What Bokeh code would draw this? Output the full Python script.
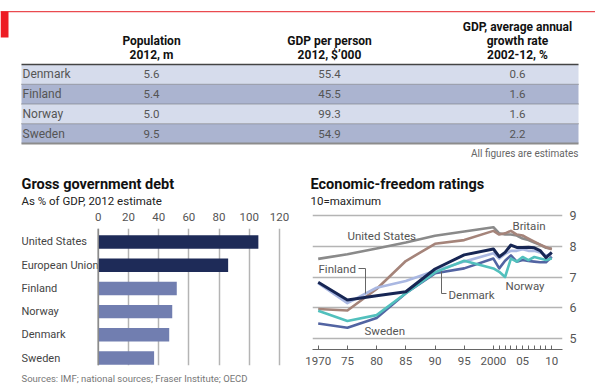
import numpy as np
from bokeh.plotting import figure
from bokeh.models import Range1d, FixedTicker, Label, Span, BoxAnnotation
from bokeh.layouts import column, row
from bokeh.embed import file_html
from bokeh.resources import INLINE
from bokeh.core.properties import value

FONT = "Roboto"

# ---------------- data ----------------
table_countries = ["Denmark", "Finland", "Norway", "Sweden"]
population_2012 = [5.6, 5.4, 5.0, 9.5]
gdp_per_person_2012 = [55.4, 45.5, 99.3, 54.9]
gdp_growth_2002_12 = [0.6, 1.6, 1.6, 2.2]
header_population = ["Population", "2012, m"]
header_gdp_person = ["GDP per person", "2012, $\u2019000"]
header_gdp_growth = ["GDP, average annual", "growth rate", "2002-12, %"]

debt_countries = ["United States", "European Union", "Finland", "Norway", "Denmark", "Sweden"]
debt_pct_gdp = [106, 86, 52, 49, 47, 37]
debt_ticks = [0, 20, 40, 60, 80, 100, 120]

years = [1970, 1975, 1980, 1985, 1990, 1995, 2000, 2001, 2002, 2003,
         2004, 2005, 2006, 2007, 2008, 2009, 2010]
year_tick_labels = {1970: "1970", 1975: "75", 1980: "80", 1985: "85", 1990: "90",
                    1995: "95", 2000: "2000", 2005: "05", 2010: "10"}
rating_ticks = [5, 6, 7, 8, 9]
rating_united_states = [7.59, 7.74, 7.93, 8.12, 8.34, 8.48, 8.62, 8.42, 8.38, 8.38,
                        8.35, 8.25, 8.20, 8.12, 8.05, 7.95, 7.92]
rating_britain = [5.96, 5.91, 6.61, 7.52, 8.08, 8.20, 8.50, 8.38, 8.42, 8.50,
                  8.38, 8.35, 8.25, 8.15, 8.05, 7.97, 7.90]
rating_denmark = [6.83, 6.25, 6.39, 6.52, 7.26, 7.72, 7.91, 7.66, 7.80, 8.04,
                  7.96, 7.96, 7.97, 7.95, 7.86, 7.63, 7.80]
rating_finland = [6.80, 6.15, 6.65, 6.87, 7.20, 7.50, 7.77, 7.60, 7.75, 7.85,
                  7.85, 7.90, 7.85, 7.85, 7.80, 7.70, 7.75]
rating_sweden = [5.49, 5.35, 5.67, 6.47, 7.12, 7.28, 7.60, 7.28, 7.53, 7.70,
                 7.50, 7.55, 7.52, 7.50, 7.48, 7.48, 7.66]
rating_norway = [5.90, 5.57, 5.76, 6.47, 7.15, 7.53, 7.28, 7.17, 7.00, 7.60,
                 7.50, 7.65, 7.55, 7.65, 7.60, 7.55, 7.60]

TXT = "#555555"
DARK = "#111111"

# ---------------- top: table + panel titles ----------------
TOP_H = 207
ROW_H = 19.75
ROW0 = 73.9


def ry(py):
    return (py - ROW0) / ROW_H


top = figure(width=595, height=TOP_H, x_range=Range1d(0, 595), y_range=Range1d(ry(TOP_H), ry(0)),
             x_axis_type=None, y_axis_type=None, output_backend="svg", toolbar_location=None,
             min_border=0, outline_line_color=None)
top.grid.visible = False

idx = list(range(len(table_countries)))
row_colors = ["#d6dcec" if i % 2 == 0 else "#abb4d0" for i in idx]
top.rect(x=299.5, y=idx, width=557, height=1, fill_color=row_colors, line_color=None)
sep = [i + 0.5 for i in idx[:-1]]
top.segment(x0=21, x1=578, y0=sep, y1=sep, line_color="#6a6a6a", line_dash="1 1", line_width=1)
top.segment(x0=[21], x1=[578], y0=[-0.5], y1=[-0.5], line_color="#444444", line_width=1.5)
top.segment(x0=[21], x1=[578], y0=[len(idx) - 0.5], y1=[len(idx) - 0.5], line_color="#8c8c8c", line_width=2)

top.text(x=22, y=idx, text=table_countries, text_font=value(FONT), text_font_size="12px",
         text_color=TXT, text_baseline="middle", text_align="left")
for xc, vals in [(151, population_2012), (329, gdp_per_person_2012), (517, gdp_growth_2002_12)]:
    top.text(x=xc, y=idx, text=[f"{v:.1f}" for v in vals], text_font=value(FONT),
             text_font_size="11.5px", text_color=TXT, text_baseline="middle", text_align="center")

for xc, lines in [(151, header_population), (329, header_gdp_person), (517, header_gdp_growth)]:
    n = len(lines)
    for k, t in enumerate(lines):
        py = 54 - 14 * (n - 1 - k)
        top.add_layout(Label(x=xc, y=ry(py), text=t, text_font=FONT, text_font_size="12px",
                             text_font_style="bold", text_color=DARK, text_align="center",
                             text_baseline="middle"))
top.add_layout(Label(x=578, y=ry(153), text="All figures are estimates", text_font=FONT,
                     text_font_size="10px", text_color="#666666", text_align="right",
                     text_baseline="middle"))
top.add_layout(BoxAnnotation(left=0, right=595, top=ry(10.5), bottom=ry(11.8), fill_color="#ea4a4f",
                             fill_alpha=1, line_color=None))
top.add_layout(BoxAnnotation(left=0, right=8, top=ry(11), bottom=ry(37), fill_color="#ed1c24",
                             fill_alpha=1, line_color=None))

for xt, t1, t2 in [(21, "Gross government debt", "As % of GDP, 2012 estimate"),
                   (310, "Economic-freedom ratings", "10=maximum")]:
    top.add_layout(Label(x=xt, y=ry(184), text=t1, text_font=FONT, text_font_size="14.5px",
                         text_font_style="bold", text_color=DARK, text_baseline="middle"))
    top.add_layout(Label(x=xt, y=ry(200), text=t2, text_font=FONT, text_font_size="11.5px",
                         text_color="#222222", text_baseline="middle"))

# ---------------- bottom-left: bar chart ----------------
BOT_H = 372 - TOP_H
BX0 = 97.7
BXS = 1.511


def bx(px):
    return (px - BX0) / BXS


bar = figure(width=297, height=BOT_H, x_range=Range1d(bx(21), bx(285)), y_range=Range1d(5.32, -0.58),
             x_axis_location="above", y_axis_type=None, output_backend="svg", toolbar_location=None,
             min_border_left=21, min_border_right=12, min_border_top=228 - TOP_H, min_border_bottom=7,
             outline_line_color=None)
bar.xaxis.ticker = FixedTicker(ticks=debt_ticks)
bar.xaxis.axis_line_color = None
bar.xaxis.major_tick_line_color = None
bar.xaxis.minor_tick_line_color = None
bar.xaxis.major_label_standoff = 2
bar.xaxis.major_label_text_font = FONT
bar.xaxis.major_label_text_font_size = "11.5px"
bar.xaxis.major_label_text_color = TXT
bar.xgrid.ticker = FixedTicker(ticks=debt_ticks)
bar.xgrid.grid_line_color = "#b4b4b4"
bar.xgrid.grid_line_width = 1.5
bar.ygrid.visible = False
bar.add_layout(Span(location=0, dimension="height", line_color="#8a8a8a", line_width=1.5))

didx = list(range(len(debt_countries)))
bar_colors = ["#1e2b58" if c in ("United States", "European Union") else "#717eb0" for c in debt_countries]
bar.hbar(y=didx, left=0, right=debt_pct_gdp, height=0.58, fill_color=bar_colors, line_color=None)
bar.text(x=bx(21), y=didx, text=debt_countries, text_font=value(FONT), text_font_size="11px",
         text_color="#444444", text_baseline="middle", text_align="left")

# ---------------- bottom-right: line chart ----------------
LX0 = 317.7
LXS = 5.84
LY9 = 215
LYS = 30.75


def lx(px):
    return 1970 + (px - LX0) / LXS


def ly(py):
    return 9 - (py - LY9) / LYS


line = figure(width=298, height=BOT_H, x_range=Range1d(lx(312), lx(562)), y_range=Range1d(ly(349), ly(TOP_H)),
              y_axis_location="right", output_backend="svg", toolbar_location=None,
              min_border_left=15, min_border_right=33, min_border_top=0, min_border_bottom=23,
              outline_line_color=None)
line.yaxis.ticker = FixedTicker(ticks=rating_ticks)
line.yaxis.axis_line_color = None
line.yaxis.major_tick_line_color = None
line.yaxis.minor_tick_line_color = None
line.yaxis.major_label_standoff = 1
line.yaxis.major_label_text_font = FONT
line.yaxis.major_label_text_font_size = "12.5px"
line.yaxis.major_label_text_color = TXT
line.ygrid.ticker = FixedTicker(ticks=rating_ticks)
line.ygrid.grid_line_color = "#b4b4b4"
line.ygrid.grid_line_width = 1.5
line.xgrid.visible = False

line.xaxis.ticker = FixedTicker(ticks=years)
line.xaxis.major_label_overrides = {y: year_tick_labels.get(y, "") for y in years}
line.xaxis.axis_line_color = "#666666"
line.xaxis.axis_line_width = 1
line.xaxis.major_tick_line_color = "#666666"
line.xaxis.major_tick_in = 4
line.xaxis.major_tick_out = 0
line.xaxis.minor_tick_line_color = None
line.xaxis.major_label_standoff = 7
line.xaxis.major_label_text_font = FONT
line.xaxis.major_label_text_font_size = "11.5px"
line.xaxis.major_label_text_color = TXT

series = [
    (rating_united_states, "#8a8a8a", 2.6),
    (rating_britain, "#a5847a", 2.6),
    (rating_sweden, "#5264a2", 2.6),
    (rating_finland, "#aab8e2", 2.6),
    (rating_norway, "#52c0bd", 2.6),
    (rating_denmark, "#172654", 3.0),
]
for vals, col, w in series:
    line.line(years, vals, line_color=col, line_width=w, line_join="round")

lbl = dict(text_font=FONT, text_font_size="11.5px", text_color=TXT, text_baseline="middle")
for txt, px, py in [("United States", 347, 235), ("Britain", 512, 225), ("Finland", 318, 268),
                    ("Denmark", 448, 294), ("Norway", 505, 285), ("Sweden", 364, 330)]:
    line.add_layout(Label(x=lx(px), y=ly(py), text=txt, **lbl))

# leader lines
fin_x = lx(365)
fin_y = float(np.interp(fin_x, years, rating_finland))
line.line([lx(358), fin_x, fin_x], [ly(268), ly(268), fin_y], line_color="#666666", line_width=1)
den_x = lx(441)
line.line([den_x, den_x, lx(446)], [ly(271), ly(293), ly(293)], line_color="#666666", line_width=1)

# ---------------- bottom strip: sources ----------------
strip = figure(width=595, height=386 - TOP_H - BOT_H, x_range=Range1d(0, 595), y_range=Range1d(386, TOP_H + BOT_H),
               x_axis_type=None, y_axis_type=None, output_backend="svg", toolbar_location=None,
               min_border=0, outline_line_color=None)
strip.grid.visible = False
strip.add_layout(Label(x=21, y=378, text="Sources: IMF; national sources; Fraser Institute; OECD",
                       text_font=FONT, text_font_size="9.5px", text_color="#777777", text_baseline="middle"))

layout = column(top, row(column(bar), column(line), spacing=0), strip, spacing=0)

open("out.html", "w").write(file_html(layout, INLINE))
